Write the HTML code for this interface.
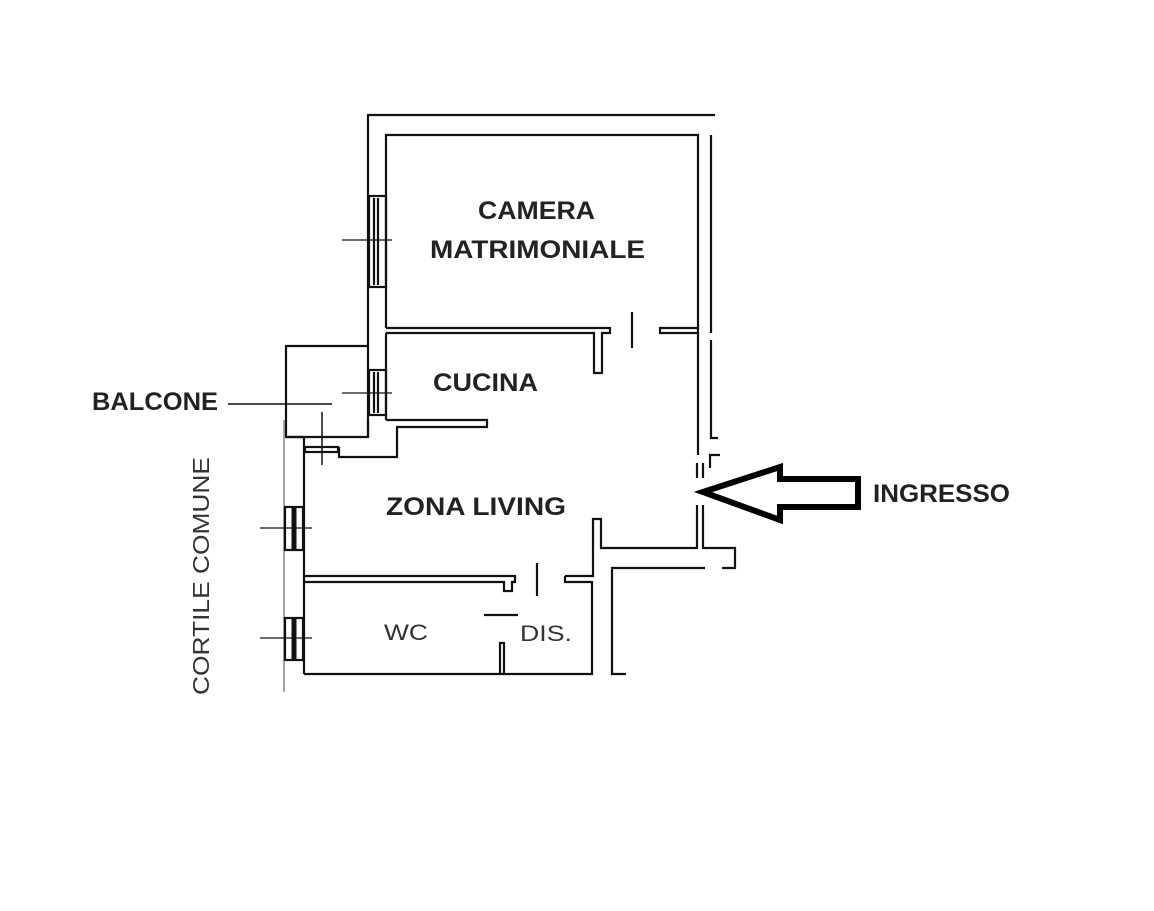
<!DOCTYPE html>
<html><head><style>body{margin:0;background:#fff}svg{display:block}</style></head><body>
<svg width="1154" height="911" viewBox="0 0 1154 911" xmlns="http://www.w3.org/2000/svg">
<g stroke="#111" stroke-width="2.2" fill="none">
<polyline points="715,115 368,115 368,346"/>
<polyline points="386,328 386,135 698,135 698,455"/>
<polyline points="711,135 711,333"/>
<polyline points="711,340 711,438 718,438"/>
<polyline points="710,468 710,455 720,455"/>
<rect x="369" y="196" width="17" height="91"/>
<line x1="374" y1="198" x2="374" y2="285"/>
<line x1="378" y1="198" x2="378" y2="285"/>
<line x1="342" y1="240" x2="392" y2="240" stroke-width="1.2"/>
<polyline points="386,328 610,328 610,333 602,333 602,373 594,373 594,333 386,333"/>
<line x1="632" y1="312" x2="632" y2="348"/>
<polyline points="698,328 660,328 660,333 698,333"/>
<line x1="368" y1="346" x2="368" y2="437"/>
<line x1="386" y1="333" x2="386" y2="420"/>
<polyline points="368,346 286,346 286,437 368,437 368,420"/>
<rect x="369" y="370" width="17" height="45"/>
<line x1="374" y1="372" x2="374" y2="413"/>
<line x1="378" y1="372" x2="378" y2="413"/>
<line x1="342" y1="393" x2="392" y2="393" stroke-width="1.2"/>
<line x1="228" y1="404" x2="332" y2="404" stroke-width="1.5"/>
<line x1="322" y1="412" x2="322" y2="465" stroke-width="1.5"/>
<polyline points="386,420 487,420 487,427 397,427 397,457 339,457 339,447"/>
<rect x="305" y="447" width="33" height="5"/>
<line x1="284" y1="420" x2="284" y2="692" stroke="#888" stroke-width="1.5"/>
<line x1="304" y1="437" x2="304" y2="674"/>
<line x1="304" y1="437" x2="286" y2="437"/>
<rect x="285" y="507" width="18" height="43"/>
<line x1="294" y1="507" x2="294" y2="550" stroke-width="5"/>
<line x1="260" y1="528" x2="312" y2="528" stroke-width="1.2"/>
<rect x="285" y="618" width="18" height="42"/>
<line x1="294" y1="618" x2="294" y2="660" stroke-width="5"/>
<line x1="260" y1="638" x2="312" y2="638" stroke-width="1.2"/>
<polyline points="304,576 515,576 515,582 512,582 512,591 504,591 504,582 304,582"/>
<line x1="537" y1="563" x2="537" y2="596"/>
<polyline points="565,576 593,576 593,519 601,519 601,548 697,548 697,519"/>
<polyline points="565,576 565,582 592,582 592,674 304,674"/>
<line x1="484" y1="615" x2="518" y2="615"/>
<polyline points="500,674 500,643 504,643 504,674"/>
<polyline points="626,674 612,674 612,568 705,568"/>
<polyline points="703,520 703,548 735,548 735,568 722,568"/>
<line x1="697" y1="463" x2="697" y2="478"/>
<line x1="703" y1="463" x2="703" y2="478"/>
<line x1="697" y1="505" x2="697" y2="520"/>
<line x1="703" y1="505" x2="703" y2="520"/>
</g>
<polygon points="703,492 780,467 780,479 858,479 858,507 780,507 780,520" fill="none" stroke="#000" stroke-width="6" stroke-linejoin="miter"/>
<g font-family="'Liberation Sans', sans-serif" fill="#222">
<g font-weight="bold" font-size="25">
<text x="478" y="219" textLength="117" lengthAdjust="spacingAndGlyphs">CAMERA</text>
<text x="430" y="258" textLength="215" lengthAdjust="spacingAndGlyphs">MATRIMONIALE</text>
<text x="433" y="391" textLength="105" lengthAdjust="spacingAndGlyphs">CUCINA</text>
<text x="386" y="515" textLength="180" lengthAdjust="spacingAndGlyphs">ZONA LIVING</text>
<text x="92" y="410" textLength="126" lengthAdjust="spacingAndGlyphs">BALCONE</text>
<text x="873" y="502" textLength="137" lengthAdjust="spacingAndGlyphs">INGRESSO</text>
</g>
<text x="384" y="640" font-size="22" fill="#333" textLength="44" lengthAdjust="spacingAndGlyphs">WC</text>
<text x="520" y="641" font-size="22" fill="#333" textLength="52" lengthAdjust="spacingAndGlyphs">DIS.</text>
<text transform="translate(209,695) rotate(-90)" font-size="23" fill="#333" textLength="238" lengthAdjust="spacingAndGlyphs">CORTILE COMUNE</text>
</g>
</svg>
</body></html>
